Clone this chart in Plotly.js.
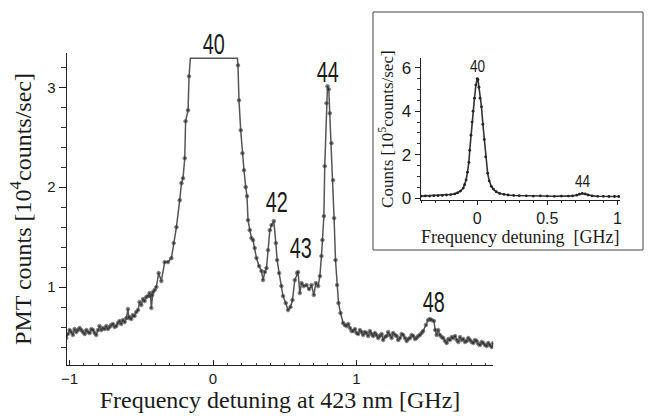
<!DOCTYPE html>
<html><head><meta charset="utf-8">
<script src="https://cdn.plot.ly/plotly-3.0.1.min.js"></script>
<style>html,body{margin:0;padding:0;background:#fff}#plot{width:651px;height:418px}</style>
</head><body><div id="plot"></div>
<script>
// Main spectrum: frequency detuning (GHz) vs PMT counts (10^4 counts/sec)
const mainX = [-1.023,-1.012,-1.000,-0.988,-0.977,-0.965,-0.953,-0.942,-0.930,-0.918,-0.907,-0.895,-0.883,-0.872,-0.860,-0.848,-0.837,-0.825,-0.814,-0.802,-0.791,-0.779,-0.768,-0.756,-0.744,-0.733,-0.721,-0.710,-0.698,-0.686,-0.674,-0.663,-0.651,-0.640,-0.628,-0.616,-0.604,-0.593,-0.587,-0.581,-0.570,-0.558,-0.547,-0.535,-0.523,-0.512,-0.500,-0.488,-0.477,-0.465,-0.453,-0.442,-0.436,-0.430,-0.424,-0.419,-0.407,-0.395,-0.379,-0.360,-0.337,-0.314,-0.290,-0.274,-0.255,-0.232,-0.220,-0.209,-0.197,-0.191,-0.174,-0.167,-0.158,-0.080,0.000,0.080,0.170,0.174,0.181,0.193,0.205,0.216,0.228,0.237,0.244,0.256,0.268,0.279,0.291,0.303,0.321,0.338,0.349,0.361,0.373,0.384,0.396,0.408,0.424,0.438,0.447,0.461,0.477,0.488,0.507,0.523,0.540,0.554,0.570,0.586,0.593,0.605,0.617,0.633,0.652,0.670,0.687,0.703,0.717,0.733,0.745,0.756,0.763,0.773,0.779,0.791,0.798,0.807,0.814,0.826,0.837,0.844,0.854,0.865,0.875,0.889,0.907,0.919,0.931,0.943,0.954,0.966,0.977,0.989,1.001,1.012,1.024,1.036,1.047,1.059,1.070,1.082,1.094,1.105,1.117,1.129,1.140,1.152,1.163,1.175,1.186,1.198,1.210,1.221,1.233,1.245,1.256,1.268,1.280,1.291,1.303,1.315,1.326,1.338,1.350,1.361,1.373,1.385,1.396,1.408,1.419,1.431,1.442,1.454,1.465,1.484,1.500,1.512,1.524,1.540,1.549,1.559,1.570,1.582,1.594,1.605,1.617,1.629,1.641,1.652,1.664,1.675,1.687,1.699,1.710,1.722,1.734,1.745,1.757,1.768,1.780,1.791,1.803,1.815,1.826,1.838,1.850,1.861,1.873,1.884,1.896,1.908,1.919,1.931,1.943,1.954];
const mainY = [0.49,0.53,0.57,0.55,0.52,0.58,0.55,0.57,0.59,0.57,0.55,0.53,0.57,0.55,0.54,0.58,0.57,0.54,0.52,0.57,0.61,0.57,0.59,0.58,0.61,0.58,0.60,0.62,0.63,0.60,0.61,0.64,0.66,0.63,0.67,0.65,0.69,0.78,0.69,0.70,0.68,0.72,0.71,0.75,0.77,0.85,0.82,0.88,0.86,0.90,0.91,0.94,0.91,0.79,0.92,0.95,0.97,1.00,1.14,1.06,1.25,1.25,1.29,1.44,1.60,1.87,2.04,2.09,2.29,2.66,2.77,3.11,3.29,3.29,3.29,3.29,3.29,3.22,2.87,2.57,2.34,2.17,2.00,1.91,1.67,1.57,1.49,1.47,1.39,1.29,1.21,1.16,1.07,1.15,1.19,1.37,1.57,1.62,1.66,1.44,1.27,1.14,1.01,0.91,0.84,0.77,0.80,0.87,1.07,1.14,1.15,0.94,1.04,1.01,1.02,0.98,1.02,0.92,1.04,1.01,1.11,1.31,1.47,1.71,2.21,2.84,3.01,2.98,2.74,2.44,2.07,1.69,1.27,1.02,0.84,0.74,0.64,0.62,0.61,0.63,0.59,0.56,0.56,0.58,0.54,0.53,0.57,0.55,0.52,0.55,0.54,0.51,0.56,0.53,0.51,0.54,0.52,0.49,0.51,0.53,0.47,0.50,0.51,0.55,0.52,0.49,0.54,0.52,0.51,0.47,0.49,0.53,0.52,0.49,0.46,0.48,0.49,0.52,0.51,0.48,0.49,0.51,0.52,0.54,0.56,0.62,0.67,0.68,0.67,0.66,0.57,0.52,0.57,0.52,0.50,0.49,0.46,0.44,0.48,0.47,0.50,0.49,0.51,0.47,0.45,0.50,0.47,0.48,0.45,0.46,0.49,0.47,0.45,0.44,0.47,0.46,0.43,0.42,0.45,0.44,0.42,0.41,0.44,0.42,0.40,0.44];

// Inset: frequency detuning (GHz) vs counts (10^5 counts/sec)
const insetX = [-0.40,-0.37,-0.34,-0.31,-0.28,-0.25,-0.22,-0.19,-0.16,-0.14,-0.12,-0.10,-0.09,-0.08,-0.07,-0.06,-0.054,-0.045,-0.037,-0.03,-0.02,-0.01,0.00,0.005,0.012,0.02,0.03,0.04,0.05,0.06,0.074,0.085,0.10,0.115,0.135,0.16,0.19,0.22,0.26,0.30,0.35,0.40,0.45,0.50,0.55,0.60,0.65,0.68,0.71,0.73,0.75,0.77,0.79,0.82,0.86,0.90,0.94,0.98,1.01];
const insetY = [0.10,0.11,0.10,0.12,0.12,0.13,0.15,0.17,0.20,0.25,0.33,0.47,0.62,0.84,1.20,1.65,2.20,2.90,3.50,4.00,4.60,5.20,5.50,5.45,5.10,4.60,4.20,3.40,2.70,1.90,1.15,0.80,0.55,0.42,0.30,0.22,0.18,0.15,0.13,0.12,0.11,0.10,0.11,0.10,0.09,0.10,0.10,0.11,0.14,0.19,0.22,0.20,0.15,0.11,0.09,0.09,0.08,0.08,0.08];

// Isotope peak labels
const mainPeakLabels = ["40","42","43","44","48"];
const mainPeakX = [0.0, 0.44, 0.61, 0.80, 1.535];
const insetPeakLabels = ["40","44"];
const insetPeakX = [0.0, 0.75];
const insetPeakY = [6.05, 0.75];

// Axis tick labels
const mainXTickVals = [-1, 0, 1];
const mainXTickText = ['\u22121', '0', '1'];
const mainXHalfTicks = [-0.5, 0.5, 1.5];
const mainYTickVals = [1, 2, 3];
const insetXTickVals = [0, 0.5, 1];
const insetXTickText = ['0', '0.5', '1'];
const insetYTickVals = [0, 2, 4, 6];

const W = 651, H = 418;
const px = v => v / W;
const py = v => (H - v) / H;

// y positions (pixels) for main labels
const mainLabelPy = [43, 201.7, 247.3, 71.7, 301.7];

const txt = '#1a1a1a';
const serif = 'Liberation Serif, Times New Roman, serif';
const sans = 'Liberation Sans, Arial, sans-serif';

const traces = [
  {x: mainX, y: mainY, type: 'scatter', mode: 'lines+markers', xaxis: 'x', yaxis: 'y',
   line: {color: '#555', width: 1.5},
   marker: {color: '#222', size: mainY.map(v => v >= 3.29 ? 0 : 3.6)},
   hoverinfo: 'skip', showlegend: false},
  {x: insetX, y: insetY, type: 'scatter', mode: 'lines+markers', xaxis: 'x2', yaxis: 'y2',
   line: {color: '#333', width: 1.6},
   marker: {color: '#222', size: 2.8},
   hoverinfo: 'skip', showlegend: false}
];

const annotations = [];
mainPeakLabels.forEach((t, i) => annotations.push({
  text: t, xref: 'x', x: mainPeakX[i], yref: 'paper', y: py(mainLabelPy[i]),
  showarrow: false, xanchor: 'center', yanchor: 'middle',
  font: {family: sans, size: 30, color: txt}
}));
insetPeakLabels.forEach((t, i) => annotations.push({
  text: t, xref: 'x2', x: insetPeakX[i], yref: 'y2', y: insetPeakY[i],
  showarrow: false, xanchor: 'center', yanchor: 'middle',
  font: {family: sans, size: 17, color: txt}
}));

const layout = {
  width: W, height: H,
  margin: {l: 0, r: 0, t: 0, b: 0},
  paper_bgcolor: '#fff', plot_bgcolor: 'rgba(0,0,0,0)',
  showlegend: false,
  xaxis: {
    domain: [px(66.7), px(493.3)], range: [-1.02, 1.954],
    showgrid: false, zeroline: false, showline: true, linecolor: '#222', linewidth: 1,
    tickmode: 'array', tickvals: mainXTickVals, ticktext: mainXTickText,
    ticks: 'inside', ticklen: 5, tickcolor: '#222',
    minor: {dtick: 0.1, ticks: 'inside', ticklen: 2, tickcolor: '#444', showgrid: false},
    tickfont: {family: sans, size: 15, color: txt},
    title: {text: 'Frequency detuning at 423 nm [GHz]', font: {family: serif, size: 24, color: txt}, standoff: 4},
    anchor: 'y', fixedrange: true
  },
  xaxis3: {
    domain: [px(66.7), px(493.3)], range: [-1.02, 1.954], overlaying: 'x', anchor: 'y',
    showgrid: false, zeroline: false, showline: false,
    tickmode: 'array', tickvals: mainXHalfTicks, showticklabels: false,
    ticks: 'inside', ticklen: 5, tickcolor: '#222', fixedrange: true
  },
  yaxis: {
    domain: [py(365), py(53)], range: [0.22, 3.343],
    showgrid: false, zeroline: false, showline: true, linecolor: '#222', linewidth: 1,
    tickmode: 'array', tickvals: mainYTickVals,
    ticks: 'outside', ticklen: 7, tickcolor: '#222',
    minor: {dtick: 0.2, ticks: 'outside', ticklen: 5, tickcolor: '#333', showgrid: false},
    tickfont: {family: sans, size: 15, color: txt},
    title: {text: 'PMT counts [10<sup>4</sup>counts/sec]', font: {family: serif, size: 24, color: txt}, standoff: 8},
    anchor: 'x', fixedrange: true
  },
  xaxis2: {
    domain: [px(420.7), px(620)], range: [-0.404, 1.019],
    showgrid: false, zeroline: false, showline: true, linecolor: '#222', linewidth: 1,
    tickmode: 'array', tickvals: insetXTickVals, ticktext: insetXTickText,
    ticks: 'outside', ticklen: 4, tickcolor: '#222',
    minor: {dtick: 0.1, ticks: 'outside', ticklen: 2, tickcolor: '#333', showgrid: false},
    tickfont: {family: sans, size: 16, color: txt},
    title: {text: 'Frequency detuning&nbsp; [GHz]', font: {family: serif, size: 18, color: txt}, standoff: 2},
    anchor: 'y2', fixedrange: true
  },
  yaxis2: {
    domain: [py(200), py(58.3)], range: [-0.08, 6.43],
    showgrid: false, zeroline: false, showline: true, linecolor: '#222', linewidth: 1,
    tickmode: 'array', tickvals: insetYTickVals,
    ticks: 'outside', ticklen: 5, tickcolor: '#222',
    minor: {dtick: 0.5, ticks: 'outside', ticklen: 3, tickcolor: '#333', showgrid: false},
    tickfont: {family: sans, size: 17, color: txt},
    title: {text: 'Counts [10<sup>5</sup>counts/sec]', font: {family: serif, size: 17, color: txt}, standoff: 3},
    anchor: 'x2', fixedrange: true
  },
  shapes: [{
    type: 'rect', xref: 'paper', yref: 'paper', layer: 'below',
    x0: px(373), x1: px(643), y0: py(250), y1: py(12),
    line: {color: '#444', width: 1}, fillcolor: '#fff'
  }],
  annotations: annotations
};

// Condense the peak labels horizontally (the reference uses a condensed face),
// and drop empty placeholder text nodes.
function finish(gd) {
  const groups = gd.querySelectorAll('g.annotation');
  groups.forEach((g, i) => {
    const t = g.querySelector('text.annotation-text');
    if (!t) return;
    const s = i < mainPeakLabels.length ? 0.66 : 0.8;
    const b = t.getBBox();
    const cx = b.x + b.width / 2;
    const prev = t.getAttribute('transform') || '';
    t.setAttribute('transform', prev + ' translate(' + cx + ',0) scale(' + s + ',1) translate(' + (-cx) + ',0)');
  });
  gd.querySelectorAll('text').forEach(t => {
    if (!t.textContent || !t.textContent.trim()) t.remove();
  });
}

Plotly.newPlot('plot', traces, layout, {displayModeBar: false, staticPlot: true}).then(finish);
</script>
</body></html>
